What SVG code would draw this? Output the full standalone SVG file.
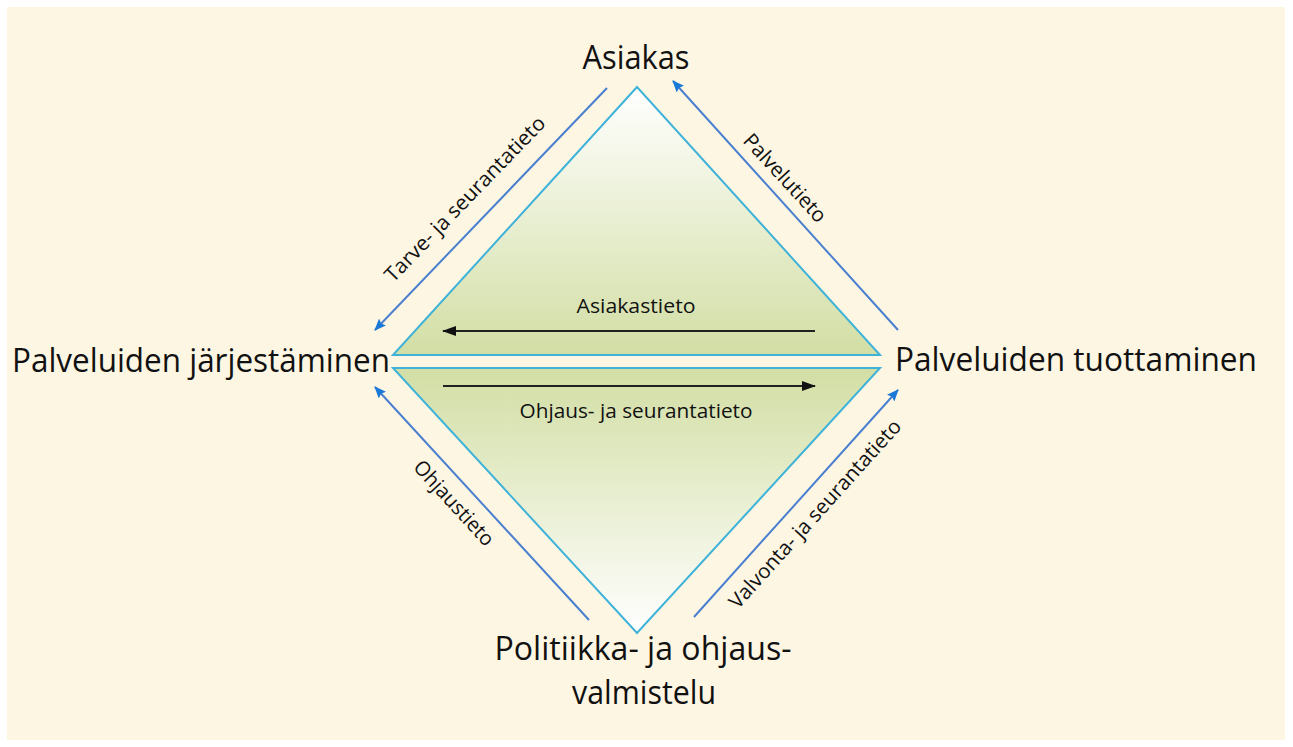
<svg xmlns="http://www.w3.org/2000/svg" width="1293" height="747" viewBox="0 0 1293 747">
<style>
.node{font-family:"Open Sans","Liberation Sans",sans-serif;font-size:32px;fill:#111}
.lbl{font-family:"Open Sans","Liberation Sans",sans-serif;font-size:20.5px;fill:#111}
.blue{stroke:#4a7fcf;stroke-width:2;fill:none}
.blk{stroke:#222;stroke-width:2;fill:none}
.tri{stroke:#3fb2d9;stroke-width:2}
</style>
<defs>
<linearGradient id="gTop" x1="0" y1="0" x2="0" y2="1">
<stop offset="0" stop-color="#ffffff"/>
<stop offset="1" stop-color="#d2dea4"/>
</linearGradient>
<linearGradient id="gBot" x1="0" y1="0" x2="0" y2="1">
<stop offset="0" stop-color="#d2dea4"/>
<stop offset="1" stop-color="#ffffff"/>
</linearGradient>
<marker id="ab" viewBox="0 0 12 10" refX="11" refY="5" markerWidth="12" markerHeight="10" markerUnits="userSpaceOnUse" orient="auto">
<path d="M0,0 L12,5 L0,10 L2,5 Z" fill="#1a78d6"/>
</marker>
<marker id="ak" viewBox="0 0 14 10" refX="13" refY="5" markerWidth="14" markerHeight="10" markerUnits="userSpaceOnUse" orient="auto">
<path d="M0,0 L14,5 L0,10 Z" fill="#111"/>
</marker>
</defs>
<rect x="0" y="0" width="1293" height="747" fill="#ffffff"/>
<rect x="7" y="7" width="1278" height="733" fill="#fdf6e3"/>
<g id="triangles">
<polygon class="tri" points="637,87 393,355 880,355" fill="url(#gTop)"/>
<polygon class="tri" points="393,368 880,368 637,633" fill="url(#gBot)"/>
</g>
<g id="connectors">
<g id="c-tarve">
<line class="blue" x1="607" y1="88" x2="375" y2="330" marker-end="url(#ab)"/>
<text class="lbl" transform="translate(465,199) rotate(-46)" text-anchor="middle" y="7" textLength="221" lengthAdjust="spacingAndGlyphs">Tarve- ja seurantatieto</text>
</g>
<g id="c-palvelu">
<line class="blue" x1="898" y1="330" x2="673" y2="81" marker-end="url(#ab)"/>
<text class="lbl" transform="translate(785,178) rotate(47.5)" text-anchor="middle" y="7" textLength="112" lengthAdjust="spacingAndGlyphs">Palvelutieto</text>
</g>
<g id="c-ohjaus">
<line class="blue" x1="589" y1="620" x2="375" y2="387" marker-end="url(#ab)"/>
<text class="lbl" transform="translate(454,503) rotate(47.4)" text-anchor="middle" y="7" textLength="108" lengthAdjust="spacingAndGlyphs">Ohjaustieto</text>
</g>
<g id="c-valvonta">
<line class="blue" x1="694" y1="617" x2="898" y2="390" marker-end="url(#ab)"/>
<text class="lbl" transform="translate(815,514) rotate(-48)" text-anchor="middle" y="7" textLength="246" lengthAdjust="spacingAndGlyphs">Valvonta- ja seurantatieto</text>
</g>
<g id="c-asiakastieto">
<line class="blk" x1="815" y1="331" x2="443" y2="331" marker-end="url(#ak)"/>
<text class="lbl" x="636" y="313" text-anchor="middle" textLength="119" lengthAdjust="spacingAndGlyphs">Asiakastieto</text>
</g>
<g id="c-ohjausseuranta">
<line class="blk" x1="443" y1="386" x2="815" y2="386" marker-end="url(#ak)"/>
<text class="lbl" x="636" y="418" text-anchor="middle" textLength="233" lengthAdjust="spacingAndGlyphs">Ohjaus- ja seurantatieto</text>
</g>
</g>
<g id="n-asiakas">
<text class="node" x="636" y="69" text-anchor="middle" textLength="107" lengthAdjust="spacingAndGlyphs">Asiakas</text>
</g>
<g id="n-jarjestaminen">
<text class="node" x="12" y="372" textLength="378" lengthAdjust="spacingAndGlyphs">Palveluiden järjestäminen</text>
</g>
<g id="n-tuottaminen">
<text class="node" x="895" y="371" textLength="362" lengthAdjust="spacingAndGlyphs">Palveluiden tuottaminen</text>
</g>
<g id="n-politiikka">
<text class="node" x="643" y="660" text-anchor="middle" textLength="297" lengthAdjust="spacingAndGlyphs">Politiikka- ja ohjaus-</text>
<text class="node" x="644" y="704" text-anchor="middle" textLength="144" lengthAdjust="spacingAndGlyphs">valmistelu</text>
</g>
</svg>
